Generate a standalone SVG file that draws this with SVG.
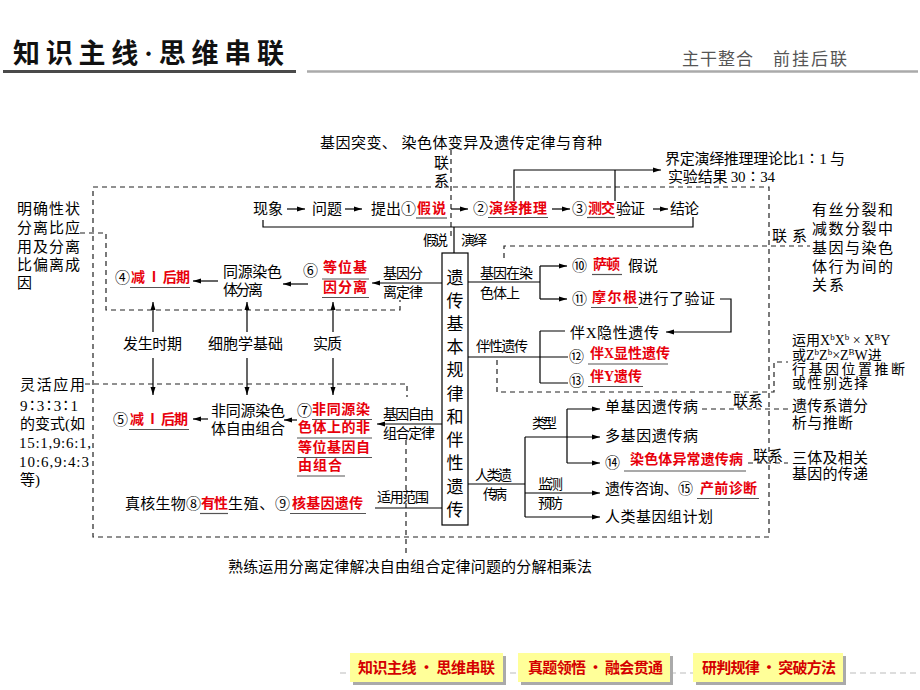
<svg xmlns="http://www.w3.org/2000/svg" width="920" height="690" viewBox="0 0 920 690">
<style>
text{font-family:"Liberation Serif","Noto Sans CJK SC",serif;font-size:15px;fill:#000}
.s{font-size:14px}
.r{fill:#e8000b;font-weight:bold;font-size:14px}
.box{font-size:17px}
.hd{font-size:27px;font-weight:bold;fill:#111}
.hr{font-size:17px;fill:#555;font-family:"Noto Sans CJK SC",sans-serif}
.bt{font-size:15px;font-weight:bold;fill:#d40000;font-family:"Noto Sans CJK SC",sans-serif}
.ln{stroke:#000;stroke-width:1.2;fill:none}
.ar{stroke:#000;stroke-width:1.2;fill:none;marker-end:url(#a)}
.d{stroke:#222;stroke-width:1.2;stroke-dasharray:5 4;fill:none}
.u{stroke:#555;stroke-width:1.2}
.sup{font-size:9px}
</style>
<defs>
<marker id="a" markerUnits="userSpaceOnUse" markerWidth="8" markerHeight="6" refX="8" refY="3" orient="auto"><path d="M0,0.5 L8,3 L0,5.5 z" fill="#000"/></marker>
</defs>
<rect width="920" height="690" fill="#fff"/>
<g id="header">
<text class="hd" x="13" y="63" textLength="271" lengthAdjust="spacing">知识主线·思维串联</text>
<line x1="3" y1="71.5" x2="296" y2="71.5" stroke="#4a4a4a" stroke-width="3"/>
<line x1="307" y1="71.5" x2="918" y2="71.5" stroke="#aaa" stroke-width="2.5"/>
<text class="hr" x="682" y="65" textLength="71" lengthAdjust="spacing">主干整合</text>
<text class="hr" x="773" y="65" textLength="74" lengthAdjust="spacing">前挂后联</text>
</g>
<g id="connectors">
<rect class="d" x="93" y="187" width="676" height="350"/>
<path class="d" d="M451,150 V238"/>
<path class="d" d="M80,233 H106 V310 H400 V300"/>
<path class="d" d="M85,384 H407 V397"/>
<path class="d" d="M406,440 V556"/>
<path class="d" d="M504,258 V246 H810"/>
<path class="d" d="M497,360 V392 H774 V362 H788"/>
<path class="d" d="M702,409 H788"/>
<path class="d" d="M748,463 H788"/>
<path class="ar" d="M287,209 H305"/>
<path class="ar" d="M345,209 H362"/>
<path class="ar" d="M451,209 H468"/>
<path class="ar" d="M552,209 H570"/>
<path class="ar" d="M653,209 H668"/>
<path class="ln" d="M263,220 V227 H693 V217"/>
<path class="ar" d="M514,201 V170 H661"/>
<path class="ln" d="M615,201 V170"/>
<path class="ln" d="M454,253 V227"/>
<path class="ar" d="M442,283 H372"/>
<path class="ar" d="M308,284 H283"/>
<path class="ar" d="M218,281 H193"/>
<path class="ar" d="M153,332 V302"/>
<path class="ar" d="M247,332 V302"/>
<path class="ar" d="M333,332 V302"/>
<path class="ar" d="M153,358 V395"/>
<path class="ar" d="M247,358 V395"/>
<path class="ar" d="M333,358 V395"/>
<path class="ar" d="M208,419 H193"/>
<path class="ar" d="M297,420 H284"/>
<path class="ar" d="M442,424 H377"/>
<path class="ln" d="M442,508 H375"/>
<path class="ln" d="M468,282 H540 M540,266 V299"/>
<path class="ar" d="M540,266 H567"/>
<path class="ar" d="M540,299 H567"/>
<path class="ar" d="M720,299 H731 V332 H666"/>
<path class="ln" d="M468,357 H568 M540,331 V383 M540,331 H565 M540,383 H568"/>
<path class="ln" d="M468,484 H525 M525,437 V517 M567,409 V463"/>
<path class="ar" d="M525,437 H600"/>
<path class="ar" d="M567,409 H600"/>
<path class="ar" d="M567,463 H600"/>
<path class="ar" d="M525,493 H600"/>
<path class="ar" d="M525,517 H600"/>
</g>
<g id="top-title">
<text x="320" y="148" textLength="282" lengthAdjust="spacing">基因突变、 染色体变异及遗传定律与育种</text>
<text x="434" y="168">联</text>
<text x="434" y="186">系</text>
</g>
<g id="top-row">
<text x="253" y="214" textLength="30" lengthAdjust="spacing">现象</text>
<text x="312" y="214" textLength="30" lengthAdjust="spacing">问题</text>
<text x="371" y="214" textLength="45" lengthAdjust="spacing">提出①</text>
<text class="r" x="417" y="213" textLength="29" lengthAdjust="spacing">假说</text>
<line class="u" x1="416" y1="218" x2="447" y2="218"/>
<text x="473" y="214">②</text>
<text class="r" x="489" y="213" textLength="58" lengthAdjust="spacing">演绎推理</text>
<line class="u" x1="488" y1="217.5" x2="548" y2="217.5"/>
<text x="572" y="214">③</text>
<text class="r" x="588" y="213" textLength="27" lengthAdjust="spacing">测交</text>
<line class="u" x1="587" y1="217.5" x2="615" y2="217.5"/>
<text x="616" y="214" textLength="29" lengthAdjust="spacing">验证</text>
<text x="670" y="214" textLength="29" lengthAdjust="spacing">结论</text>
</g>
<g id="ratio-note">
<text x="665" y="164" textLength="180" lengthAdjust="spacing">界定演绎推理理论比1∶1 与</text>
<text x="668" y="182" textLength="107" lengthAdjust="spacing">实验结果 30∶34</text>
</g>
<g id="hyp-ded">
<text class="s" x="423" y="245" textLength="25" lengthAdjust="spacing">假说</text>
<text class="s" x="461" y="245" textLength="26" lengthAdjust="spacing">演绎</text>
</g>
<g id="center-box">
<rect x="442" y="253" width="26" height="272" fill="#fff" stroke="#000" stroke-width="1.2"/>
<text class="box" x="455" y="284" text-anchor="middle">遗</text>
<text class="box" x="455" y="307" text-anchor="middle">传</text>
<text class="box" x="455" y="330" text-anchor="middle">基</text>
<text class="box" x="455" y="353" text-anchor="middle">本</text>
<text class="box" x="455" y="376" text-anchor="middle">规</text>
<text class="box" x="455" y="400" text-anchor="middle">律</text>
<text class="box" x="455" y="423" text-anchor="middle">和</text>
<text class="box" x="455" y="446" text-anchor="middle">伴</text>
<text class="box" x="455" y="469" text-anchor="middle">性</text>
<text class="box" x="455" y="493" text-anchor="middle">遗</text>
<text class="box" x="455" y="516" text-anchor="middle">传</text>
</g>
<g id="segregation-law">
<text class="s" x="383" y="278" textLength="40" lengthAdjust="spacing">基因分</text>
<text class="s" x="383" y="297" textLength="40" lengthAdjust="spacing">离定律</text>
</g>
<g id="n6">
<text x="303" y="276">⑥</text>
<text class="r" x="323" y="272" textLength="44" lengthAdjust="spacing">等位基</text>
<line class="u" x1="322" y1="279" x2="369" y2="279"/>
<text class="r" x="323" y="292" textLength="44" lengthAdjust="spacing">因分离</text>
<line class="u" x1="322" y1="297.5" x2="369" y2="297.5"/>
</g>
<g id="homolog-sep">
<text x="223" y="277" textLength="59" lengthAdjust="spacing">同源染色</text>
<text x="223" y="295" textLength="40" lengthAdjust="spacing">体分离</text>
</g>
<g id="n4">
<text x="115" y="283">④</text>
<text class="r" x="131" y="282" textLength="59" lengthAdjust="spacing">减 Ⅰ 后期</text>
<line class="u" x1="130" y1="287.5" x2="190" y2="287.5"/>
</g>
<g id="note-left-top">
<text x="17" y="214" textLength="63" lengthAdjust="spacing">明确性状</text>
<text x="17" y="233" textLength="63" lengthAdjust="spacing">分离比应</text>
<text x="17" y="252" textLength="63" lengthAdjust="spacing">用及分离</text>
<text x="17" y="270" textLength="63" lengthAdjust="spacing">比偏离成</text>
<text x="17" y="288">因</text>
</g>
<g id="mid-labels">
<text x="123" y="349" textLength="59" lengthAdjust="spacing">发生时期</text>
<text x="208" y="349" textLength="75" lengthAdjust="spacing">细胞学基础</text>
<text x="313" y="349" textLength="29" lengthAdjust="spacing">实质</text>
</g>
<g id="note-left-bottom">
<text x="20" y="390" textLength="65" lengthAdjust="spacing">灵活应用</text>
<text x="20" y="411" textLength="58" lengthAdjust="spacing">9∶3∶3∶1</text>
<text x="20" y="429" textLength="65" lengthAdjust="spacing">的变式(如</text>
<text x="19" y="448" textLength="72" lengthAdjust="spacing">15:1,9:6:1,</text>
<text x="19" y="467" textLength="70" lengthAdjust="spacing">10:6,9:4:3</text>
<text x="20" y="485">等)</text>
</g>
<g id="n5">
<text x="113" y="425">⑤</text>
<text class="r" x="130" y="424" textLength="58" lengthAdjust="spacing">减 Ⅰ 后期</text>
<line class="u" x1="129" y1="429.5" x2="189" y2="429.5"/>
</g>
<g id="nonhomolog">
<text x="211" y="416" textLength="74" lengthAdjust="spacing">非同源染色</text>
<text x="211" y="434" textLength="74" lengthAdjust="spacing">体自由组合</text>
</g>
<g id="n7">
<text x="297" y="416">⑦</text>
<text class="r" x="312" y="414" textLength="58" lengthAdjust="spacing">非同源染</text>
<line class="u" x1="312" y1="419.5" x2="372" y2="419.5"/>
<text class="r" x="298" y="432" textLength="72" lengthAdjust="spacing">色体上的非</text>
<line class="u" x1="297" y1="438" x2="372" y2="438"/>
<text class="r" x="298" y="452" textLength="72" lengthAdjust="spacing">等位基因自</text>
<line class="u" x1="297" y1="457.5" x2="372" y2="457.5"/>
<text class="r" x="298" y="470" textLength="44" lengthAdjust="spacing">由组合</text>
<line class="u" x1="297" y1="476" x2="345" y2="476"/>
</g>
<g id="assortment-law">
<text class="s" x="383" y="419" textLength="51" lengthAdjust="spacing">基因自由</text>
<text class="s" x="383" y="438" textLength="52" lengthAdjust="spacing">组合定律</text>
</g>
<g id="scope">
<text class="s" x="377" y="502" textLength="52" lengthAdjust="spacing">适用范围</text>
<text x="125" y="509" textLength="76" lengthAdjust="spacing">真核生物⑧</text>
<text class="r" x="201" y="508" textLength="27" lengthAdjust="spacing">有性</text>
<line class="u" x1="200" y1="513.5" x2="228" y2="513.5"/>
<text x="228" y="509" textLength="62" lengthAdjust="spacing">生殖、⑨</text>
<text class="r" x="292" y="508" textLength="71" lengthAdjust="spacing">核基因遗传</text>
<line class="u" x1="290" y1="513.5" x2="366" y2="513.5"/>
</g>
<g id="bottom-note">
<text x="228" y="572" textLength="364" lengthAdjust="spacing">熟练运用分离定律解决自由组合定律问题的分解相乘法</text>
</g>
<g id="gene-on-chromosome">
<text class="s" x="480" y="278" textLength="53" lengthAdjust="spacing">基因在染</text>
<text class="s" x="480" y="298" textLength="40" lengthAdjust="spacing">色体上</text>
</g>
<g id="n10">
<text x="572" y="271">⑩</text>
<text class="r" x="593" y="269" textLength="27" lengthAdjust="spacing">萨顿</text>
<line class="u" x1="592" y1="274.5" x2="622" y2="274.5"/>
<text x="628" y="271" textLength="30" lengthAdjust="spacing">假说</text>
</g>
<g id="n11">
<text x="572" y="304">⑪</text>
<text class="r" x="592" y="302" textLength="45" lengthAdjust="spacing">摩尔根</text>
<line class="u" x1="591" y1="307.5" x2="638" y2="307.5"/>
<text x="638" y="304" textLength="77" lengthAdjust="spacing">进行了验证</text>
</g>
<g id="sex-linked">
<text class="s" x="476" y="351" textLength="52" lengthAdjust="spacing">伴性遗传</text>
<text x="570" y="338" textLength="89" lengthAdjust="spacing">伴X隐性遗传</text>
</g>
<g id="n12">
<text x="569" y="362">⑫</text>
<text class="r" x="590" y="358" textLength="80" lengthAdjust="spacing">伴X显性遗传</text>
<line class="u" x1="588" y1="364" x2="668" y2="364"/>
</g>
<g id="n13">
<text x="569" y="386">⑬</text>
<text class="r" x="590" y="381" textLength="52" lengthAdjust="spacing">伴Y遗传</text>
<line class="u" x1="588" y1="386.5" x2="643" y2="386.5"/>
</g>
<g id="link1">
<text x="772" y="241" textLength="35" lengthAdjust="spacing">联系</text>
<text x="812" y="215" textLength="81" lengthAdjust="spacing">有丝分裂和</text>
<text x="812" y="234" textLength="81" lengthAdjust="spacing">减数分裂中</text>
<text x="812" y="253" textLength="81" lengthAdjust="spacing">基因与染色</text>
<text x="812" y="272" textLength="81" lengthAdjust="spacing">体行为间的</text>
<text x="812" y="290" textLength="32" lengthAdjust="spacing">关系</text>
</g>
<g id="link2">
<text class="s" x="792" y="345">运用X<tspan class="sup" baseline-shift="super">b</tspan>X<tspan class="sup" baseline-shift="super">b</tspan> × X<tspan class="sup" baseline-shift="super">B</tspan>Y</text>
<text class="s" x="792" y="360">或Z<tspan class="sup" baseline-shift="super">b</tspan>Z<tspan class="sup" baseline-shift="super">b</tspan>×Z<tspan class="sup" baseline-shift="super">B</tspan>W进</text>
<text class="s" x="792" y="374" textLength="113" lengthAdjust="spacing">行基因位置推断</text>
<text class="s" x="792" y="388" textLength="76" lengthAdjust="spacing">或性别选择</text>
</g>
<g id="human-disease">
<text class="s" x="475" y="480" textLength="37" lengthAdjust="spacing">人类遗</text>
<text class="s" x="483" y="499" textLength="24" lengthAdjust="spacing">传病</text>
<text class="s" x="532" y="428" textLength="25" lengthAdjust="spacing">类型</text>
<text class="s" x="538" y="489" textLength="25" lengthAdjust="spacing">监测</text>
<text class="s" x="538" y="508" textLength="25" lengthAdjust="spacing">预防</text>
<text x="605" y="412" textLength="93" lengthAdjust="spacing">单基因遗传病</text>
<text x="605" y="441" textLength="93" lengthAdjust="spacing">多基因遗传病</text>
<text x="605" y="522" textLength="108" lengthAdjust="spacing">人类基因组计划</text>
</g>
<g id="n14">
<text x="605" y="468">⑭</text>
<text class="r" x="630" y="464" textLength="113" lengthAdjust="spacing">染色体异常遗传病</text>
<line class="u" x1="624" y1="471" x2="746" y2="471"/>
</g>
<g id="n15">
<text x="605" y="494" textLength="88" lengthAdjust="spacing">遗传咨询、⑮</text>
<text class="r" x="700" y="493" textLength="57" lengthAdjust="spacing">产前诊断</text>
<line class="u" x1="697" y1="498.5" x2="759" y2="498.5"/>
</g>
<g id="link3">
<text x="733" y="406" textLength="30" lengthAdjust="spacing">联系</text>
<text x="792" y="411" textLength="76" lengthAdjust="spacing">遗传系谱分</text>
<text x="792" y="428" textLength="61" lengthAdjust="spacing">析与推断</text>
</g>
<g id="link4">
<text x="753" y="461" textLength="30" lengthAdjust="spacing">联系</text>
<text x="792" y="463" textLength="76" lengthAdjust="spacing">三体及相关</text>
<text x="792" y="479" textLength="76" lengthAdjust="spacing">基因的传递</text>
</g>
<g id="nav">
<line x1="340" y1="673" x2="920" y2="673" stroke="#bbb" stroke-width="1.2" stroke-dasharray="6 4"/>
<rect x="353" y="656" width="153" height="29" fill="#aaa"/>
<rect x="350" y="653" width="153" height="29" fill="#ffff99"/>
<text class="bt" x="358" y="673" textLength="137" lengthAdjust="spacing">知识主线 · 思维串联</text>
<rect x="521" y="656" width="152" height="29" fill="#aaa"/>
<rect x="518" y="653" width="152" height="29" fill="#ffff99"/>
<text class="bt" x="528" y="673" textLength="135" lengthAdjust="spacing">真题领悟 · 融会贯通</text>
<rect x="696" y="656" width="150" height="29" fill="#aaa"/>
<rect x="693" y="653" width="150" height="29" fill="#ffff99"/>
<text class="bt" x="702" y="673" textLength="134" lengthAdjust="spacing">研判规律 · 突破方法</text>
</g>
</svg>
